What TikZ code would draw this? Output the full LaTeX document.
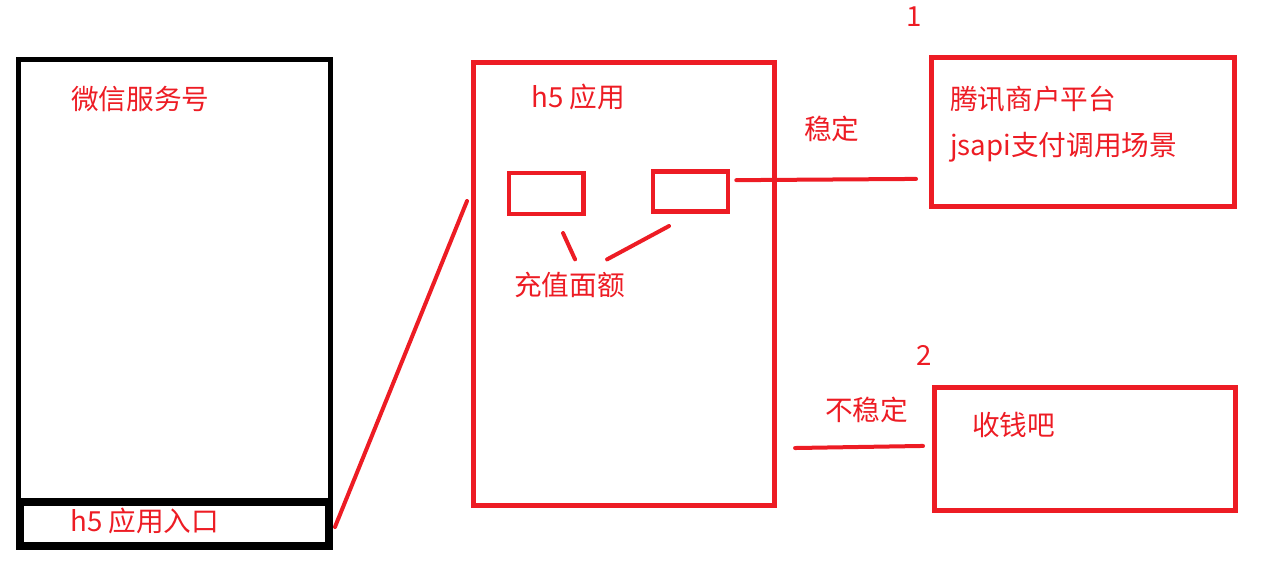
\documentclass[tikz,border=0pt]{standalone}
\usepackage{fontspec}
\setmainfont{Noto Sans CJK SC}
\usetikzlibrary{positioning}
\definecolor{paintred}{RGB}{237,28,36}
\tikzset{
  panel/.style={draw=#1, line width=3.75pt, inner sep=0pt},
  lbl/.style={text=paintred, font=\fontsize{20.75}{34}\selectfont, inner sep=0pt, anchor=base west, align=left},
  link/.style={draw=paintred, line width=3pt, line cap=round}
}

\begin{document}
\begin{tikzpicture}[x=0.75pt,y=-0.75pt]
      \useasboundingbox (0,0) rectangle (1261,586);
      % wechat account with its entry bar
      \node[panel=black, minimum width=234pt, minimum height=364.9pt] (wechat) at (174.5,302.75) {};
      \node[panel=black, line width=6pt, minimum width=232.1pt, minimum height=33pt] (entry) at (174.75,524) {};
      \node[lbl] (wechatlbl) at (71,109.5) {微信服务号};
      \node[lbl] (entrylbl) at (70,531) {h5 应用入口};
      % h5 app
      \node[panel=paintred, minimum width=225.4pt, minimum height=331.9pt] (app) at (623.75,283.75) {};
      \node[lbl] (applbl) at (531,107) {h5 应用};
      \node[panel=paintred, line width=3.4pt, minimum width=55.9pt, minimum height=30.75pt] (amtA) at (546.25,193.5) {};
      \node[panel=paintred, line width=3.4pt, minimum width=56.25pt, minimum height=30pt] (amtB) at (690.5,191.5) {};
      \node[lbl] (amtlbl) at (514,295) {充值面额};
      % payment channels
      \node[panel=paintred, minimum width=227.25pt, minimum height=112.1pt] (tenpay) at (1083,132.25) {};
      \node[lbl] (tenpaylbl) at (950,155) {腾讯商户平台\\jsapi支付调用场景};
      \node[lbl] (one) at (906,26) {1};
      \node[panel=paintred, minimum width=225.4pt, minimum height=92.6pt] (sqb) at (1085.25,448.75) {};
      \node[lbl] (sqblbl) at (972,435) {收钱吧};
      \node[lbl] (two) at (916,365) {2};
      \node[lbl] (stable) at (804,139) {稳定};
      \node[lbl] (unstable) at (825,420) {不稳定};

      \draw[link] ([xshift=1.1pt,yshift=-2.25pt]entry.east) -- ([xshift=-3pt,yshift=62pt]app.west);
      \draw[link] ([xshift=12.6pt,yshift=-12.6pt]amtA.south) -- ([xshift=4.1pt,yshift=9pt]amtlbl.north);
      \draw[link] ([xshift=28.1pt,yshift=9pt]amtlbl.north) -- ([xshift=-16.1pt,yshift=-9.2pt]amtB.south);
      \draw[link] ([xshift=4.5pt,yshift=8.5pt]amtB.east) -- ([xshift=-9.75pt,yshift=-35pt]tenpay.west);
      \draw[link] ([xshift=13.9pt,yshift=-123.2pt]app.east) -- ([xshift=-7.1pt,yshift=2.1pt]sqb.west);
    \end{tikzpicture}
\end{document}
